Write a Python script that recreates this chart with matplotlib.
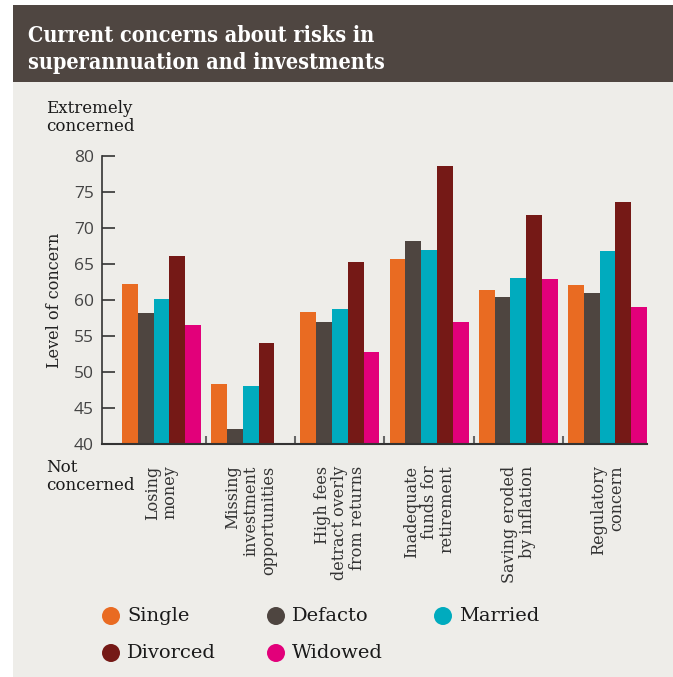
import numpy as np
import matplotlib
matplotlib.use("Agg")
import matplotlib.pyplot as plt
from matplotlib.patches import Rectangle, Circle

# ---- data -------------------------------------------------------------
categories = [
    "Losing\nmoney",
    "Missing\ninvestment\nopportunities",
    "High fees\ndetract overly\nfrom returns",
    "Inadequate\nfunds for\nretirement",
    "Saving eroded\nby inflation",
    "Regulatory\nconcern",
]
series_names = ["Single", "Defacto", "Married", "Divorced", "Widowed"]
single   = [62.2, 48.3, 58.3, 65.7, 61.4, 62.0]
defacto  = [58.2, 42.1, 56.9, 68.2, 60.4, 60.9]
married  = [60.1, 48.0, 58.7, 66.9, 63.0, 66.8]
divorced = [66.1, 54.0, 65.2, 78.6, 71.8, 73.6]
widowed  = [56.5, np.nan, 52.8, 56.9, 62.9, 59.0]
y_ticks = [40, 45, 50, 55, 60, 65, 70, 75, 80]

colors = ["#E96B22", "#4E4540", "#00ABBE", "#751916", "#E2007A"]
bg = "#EEEDE9"
head = "#4F4641"

W, H = 673, 677
fig = plt.figure(figsize=(W / 100, H / 100), dpi=100, facecolor="white")

# panel and header band (pixel coordinates converted to figure fraction)
def px(x, y):
    return x / W, 1 - y / H

fig.patches.append(Rectangle(px(13, 677), (W - 13) / W, (677 - 5) / H,
                             transform=fig.transFigure, facecolor=bg,
                             edgecolor="none", zorder=-10))
fig.patches.append(Rectangle(px(13, 82), (W - 13) / W, (82 - 5) / H,
                             transform=fig.transFigure, facecolor=head,
                             edgecolor="none", zorder=-9))

serif = ["DejaVu Serif"]
fig.text(*px(28, 42), "Current concerns about risks in", color="white",
         fontsize=15.5, fontweight="bold", family=serif, fontstretch="condensed",
         va="baseline", ha="left")
fig.text(*px(28, 69), "superannuation and investments", color="white",
         fontsize=15.5, fontweight="bold", family=serif, fontstretch="condensed",
         va="baseline", ha="left")

# ---- axes -------------------------------------------------------------
ax = fig.add_axes([102 / W, 1 - 444 / H, 545 / W, (444 - 155.7) / H])
ax.set_facecolor("none")

n = len(series_names)
bw = 0.177
x = np.arange(len(categories))
all_series = [single, defacto, married, divorced, widowed]
for i, (vals, c) in enumerate(zip(all_series, colors)):
    offs = (i - (n - 1) / 2) * bw
    ax.bar(x + offs, vals, width=bw, color=c, edgecolor="none", zorder=2)

ax.set_ylim(40, 80)
ax.set_xlim(-0.666, 5.4425)
ax.set_yticks(y_ticks)
ax.set_yticklabels([str(t) for t in y_ticks], family=["Open Sans", "DejaVu Sans"],
                   fontsize=12.5, color="#444444")
ax.tick_params(axis="y", direction="in", length=9.5, width=1.2, color="#333333",
               pad=6)
ax.set_xticks(np.arange(0.5, 5, 1.0))
ax.set_xticklabels([])
ax.tick_params(axis="x", direction="in", length=6, width=1.5, color="#666666")

for s in ["top", "right"]:
    ax.spines[s].set_visible(False)
ax.spines["left"].set_color("#333333")
ax.spines["left"].set_linewidth(1.2)
ax.spines["bottom"].set_color("#333333")
ax.spines["bottom"].set_linewidth(1.5)

ax.set_ylabel("Level of concern", family=serif, fontsize=11.5, color="#222222")
ax.yaxis.set_label_coords(-0.072, 0.5)

# category labels, rotated and right-aligned towards the axis
for xi, lab in zip(x, categories):
    ax.text(xi, -0.075, lab, transform=ax.get_xaxis_transform(), rotation=90,
            ha="center", va="top", multialignment="right", family=serif,
            fontsize=11.5, color="#333333", linespacing=1.05)

fig.text(*px(46, 100), "Extremely\nconcerned", family=serif, fontsize=12,
         color="#1a1a1a", va="top", ha="left", linespacing=1.1)
fig.text(*px(46, 459), "Not\nconcerned", family=serif, fontsize=12,
         color="#1a1a1a", va="top", ha="left", linespacing=1.1)

# ---- legend -----------------------------------------------------------
legend_pos = [(111, 616), (276, 616), (443, 616), (111, 653), (276, 653)]
for (cx, cy), name, c in zip(legend_pos, series_names, colors):
    fig.patches.append(Circle((cx, H - cy), 9, transform=None,
                              facecolor=c, edgecolor="none"))
    fig.text(*px(cx + 16, cy), name, family=serif, fontsize=14,
             color="#1a1a1a", va="center", ha="left")

fig.savefig("out.png", dpi=100, facecolor="white")
